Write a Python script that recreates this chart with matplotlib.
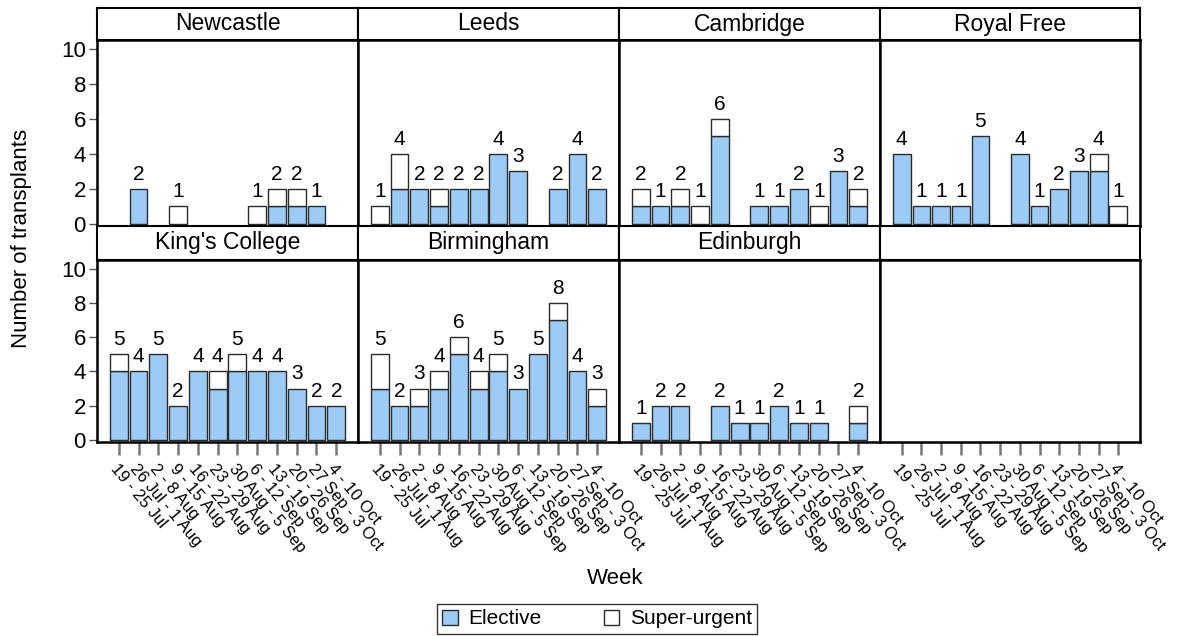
import matplotlib
matplotlib.use("Agg")
import matplotlib.pyplot as plt
import numpy as np
from matplotlib.patches import Patch

plt.rcParams['font.family'] = ['Liberation Sans', 'DejaVu Sans']

weeks = ["19 - 25 Jul", "26 Jul - 1 Aug", "2 - 8 Aug", "9 - 15 Aug", "16 - 22 Aug",
         "23 - 29 Aug", "30 Aug - 5 Sep", "6 - 12 Sep", "13 - 19 Sep", "20 - 26 Sep",
         "27 Sep - 3 Oct", "4 - 10 Oct"]

centres = ["Newcastle", "Leeds", "Cambridge", "Royal Free",
           "King's College", "Birmingham", "Edinburgh"]

newcastle_elective = [0, 2, 0, 0, 0, 0, 0, 0, 1, 1, 1, 0]
newcastle_urgent   = [0, 0, 0, 1, 0, 0, 0, 1, 1, 1, 0, 0]
leeds_elective     = [0, 2, 2, 1, 2, 2, 4, 3, 0, 2, 4, 2]
leeds_urgent       = [1, 2, 0, 1, 0, 0, 0, 0, 0, 0, 0, 0]
cambridge_elective = [1, 1, 1, 0, 5, 0, 1, 1, 2, 0, 3, 1]
cambridge_urgent   = [1, 0, 1, 1, 1, 0, 0, 0, 0, 1, 0, 1]
royalfree_elective = [4, 1, 1, 1, 5, 0, 4, 1, 2, 3, 3, 0]
royalfree_urgent   = [0, 0, 0, 0, 0, 0, 0, 0, 0, 0, 1, 1]
kings_elective     = [4, 4, 5, 2, 4, 3, 4, 4, 4, 3, 2, 2]
kings_urgent       = [1, 0, 0, 0, 0, 1, 1, 0, 0, 0, 0, 0]
birmingham_elective = [3, 2, 2, 3, 5, 3, 4, 3, 5, 7, 4, 2]
birmingham_urgent   = [2, 0, 1, 1, 1, 1, 1, 0, 0, 1, 0, 1]
edinburgh_elective = [1, 2, 2, 0, 2, 1, 1, 2, 1, 1, 0, 1]
edinburgh_urgent   = [0, 0, 0, 0, 0, 0, 0, 0, 0, 0, 0, 1]

elective = [newcastle_elective, leeds_elective, cambridge_elective, royalfree_elective,
            kings_elective, birmingham_elective, edinburgh_elective]
urgent = [newcastle_urgent, leeds_urgent, cambridge_urgent, royalfree_urgent,
          kings_urgent, birmingham_urgent, edinburgh_urgent]

yticks = [0, 2, 4, 6, 8, 10]

W, H = 1180, 636
fig = plt.figure(figsize=(W / 100, H / 100), dpi=100)

def ax_px(x0, y0, x1, y1):
    return fig.add_axes([x0 / W, 1 - y1 / H, (x1 - x0) / W, (y1 - y0) / H])

BLUE = '#9CCBF6'
EDGE = '#2b2b2b'
FS = 15
col_edges = [97, 358, 619, 880, 1140]
rows = [(8, 40, 226), (226, 260, 442)]

x = np.arange(len(weeks))
for r, (st, pt, pb) in enumerate(rows):
    for c in range(4):
        x0, x1 = col_edges[c], col_edges[c + 1]
        sax = ax_px(x0, st, x1, pt)
        sax.set_xticks([]); sax.set_yticks([])
        for s in sax.spines.values():
            s.set_linewidth(1.5)
        idx = r * 4 + c
        if idx < len(centres):
            sax.text(0.5, 0.5, centres[idx], ha='center', va='center', fontsize=16.5,
                     transform=sax.transAxes)
        ax = ax_px(x0, pt, x1, pb)
        for s in ax.spines.values():
            s.set_linewidth(1.8)
        ax.set_ylim(-0.12, 10.5)
        ax.set_xlim(-1.1, 12.1)
        ax.set_yticks(yticks)
        if c == 0:
            ax.set_yticklabels([str(v) for v in yticks], fontsize=FS + 1)
            ax.tick_params(axis='y', length=6, color='#555555', width=1, pad=2)
        else:
            ax.tick_params(axis='y', length=0, labelleft=False)
        ax.set_xticks(x)
        if r == 1:
            ax.set_xticklabels(weeks, rotation=-50, ha='left', va='top',
                               rotation_mode='anchor', fontsize=12)
            ax.tick_params(axis='x', length=9, color='#777777', width=1.8, pad=5)
        else:
            ax.tick_params(axis='x', length=0, labelbottom=False)
        if idx < len(centres):
            e = np.array(elective[idx]); u = np.array(urgent[idx])
            me = e > 0
            mu = u > 0
            ax.bar(x[me], e[me], width=0.9, color=BLUE, edgecolor=EDGE, linewidth=1)
            ax.bar(x[mu], u[mu], bottom=e[mu], width=0.9, color='white',
                   edgecolor=EDGE, linewidth=1)
            tot = e + u
            for xi, t in zip(x, tot):
                if t > 0:
                    ax.text(xi, t + 0.3, str(t), ha='center', va='bottom', fontsize=FS)

fig.text(615 / W, 1 - 578 / H, "Week", ha='center', va='center', fontsize=FS + 1)
fig.text(22 / W, 1 - 238 / H, "Number of transplants", ha='center', va='center',
         rotation=90, fontsize=FS + 1)

handles = [Patch(facecolor=BLUE, edgecolor=EDGE, label='Elective'),
           Patch(facecolor='white', edgecolor=EDGE, label='Super-urgent')]
leg = fig.legend(handles=handles, loc='center', bbox_to_anchor=(597 / W, 1 - 619 / H),
                 ncol=2, fontsize=FS, frameon=True, fancybox=False, handlelength=0.75,
                 handleheight=0.75, columnspacing=3.0, handletextpad=0.5,
                 borderpad=0.25, borderaxespad=0)
leg.get_frame().set_edgecolor('black')
leg.get_frame().set_linewidth(1)

fig.savefig("out.png", dpi=100)
